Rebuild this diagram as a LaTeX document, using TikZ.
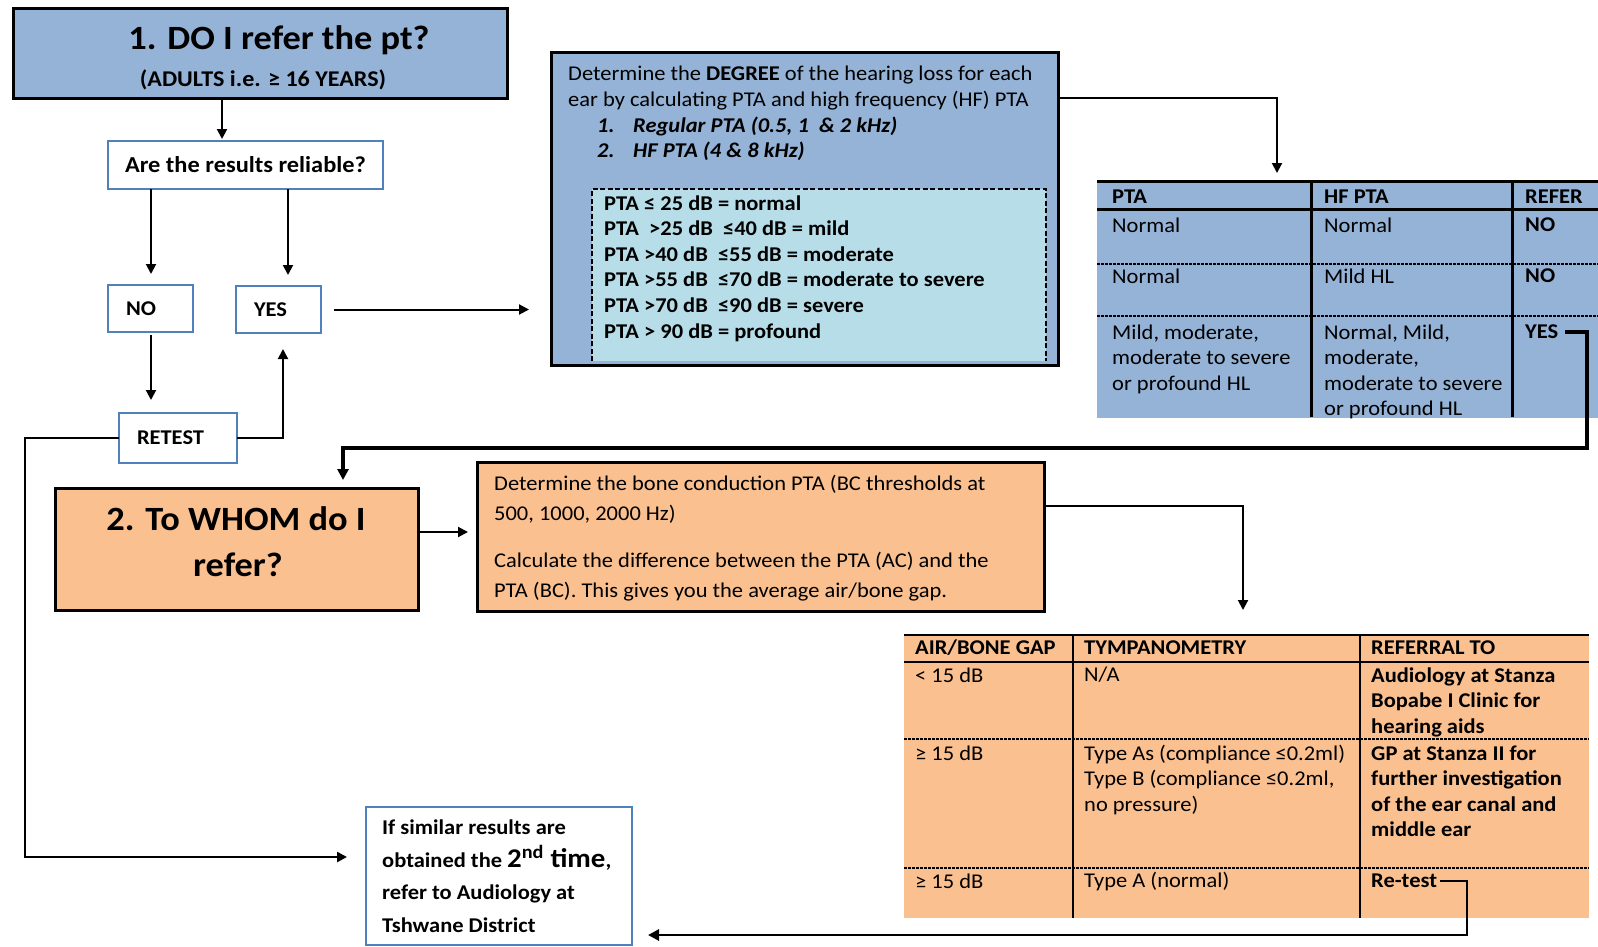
\documentclass[tikz,border=0pt]{standalone}
\usepackage{fontspec}
\setmainfont{Carlito}[FakeStretch=1.07]
\usetikzlibrary{arrows.meta,calc}
\definecolor{bfill}{RGB}{149,179,215}
\definecolor{cfill}{RGB}{183,222,232}
\definecolor{ofill}{RGB}{250,192,144}
\definecolor{bline}{RGB}{79,129,189}
\newcommand\body{\fontsize{21}{25.5}\selectfont}
\tikzset{
  box/.style={draw, rectangle, anchor=north west, inner sep=0pt, outer sep=0pt},
  bigbox/.style={box, line width=3pt, draw=black},
  bluebox/.style={box, line width=2.5pt, draw=bline, fill=white},
  ml/.style={anchor=north west, inner sep=0pt, align=left},
  cell/.style={anchor=west, inner sep=0pt},
  arr/.style={line width=2pt, -{Triangle[length=10pt,width=10pt]}},
  arrT/.style={line width=3.2pt, -{Triangle[length=11pt,width=11pt]}},
  thk/.style={line width=3pt},
  thn/.style={line width=1.5pt},
  rowsep/.style={line width=1.1pt, dash pattern=on 2.5pt off 1.5pt},
  dashb/.style={line width=2.5pt, dash pattern=on 5pt off 2.5pt},
}
\begin{document}
\begin{tikzpicture}[x=1pt,y=-1pt,font=\body]
\useasboundingbox (0,0) rectangle (1598,946);

% ---------- section 1 ----------
\node[bigbox, fill=bfill, minimum width=494, minimum height=90] (title) at (13,8) {};
\node[font=\bfseries\fontsize{34}{40}\selectfont] (ttl) at (279,40) {1. DO I refer the pt?};
\node[font=\bfseries\fontsize{22.5}{26}\selectfont] (sub) at (263,80) {(ADULTS i.e. ≥ 16 YEARS)};

\node[bluebox, minimum width=275, minimum height=48, font=\bfseries\fontsize{22.8}{26}\selectfont] (rel) at (108,141) {Are the results reliable?};
\node[bluebox, text width=49, inner xsep=18pt, minimum height=47, align=left, font=\bfseries\body] (no) at (108,285) {NO};
\node[bluebox, text width=49, inner xsep=18pt, minimum height=47, align=left, font=\bfseries\body] (yes) at (236,286) {YES};
\node[bluebox, text width=82, inner xsep=18pt, minimum height=50, align=left, font=\bfseries\body] (retest) at (119,413) {RETEST};

% blue box
\node[bigbox, fill=bfill, minimum width=507, minimum height=313] (blue) at (551,52) {};
\node[box, draw=none, fill=cfill, minimum width=454, minimum height=172] (dash) at (592,189) {};
\draw[dashb] (dash.south west) -- (dash.north west) -- (dash.north east) -- (dash.south east);
\node[ml, font=\fontsize{21}{26}\selectfont] (bt) at (568,62) {\strut Determine the \textbf{DEGREE} of the hearing loss for each\\ear by calculating PTA and high frequency (HF) PTA};
\node[ml, font=\bfseries\itshape\fontsize{21}{25.5}\selectfont] (bn) at (597,114) {\strut 1.\\2.};
\node[ml, font=\bfseries\itshape\fontsize{21}{25.5}\selectfont] (bi) at (633,114) {\strut Regular PTA (0.5, 1\ \ \& 2 kHz)\\HF PTA (4 \& 8 kHz)};
\node[ml, font=\bfseries\fontsize{21}{25.6}\selectfont] (dl) at (604,192) {\strut PTA ≤ 25 dB = normal\\PTA\ \ >25 dB\ \ ≤40 dB = mild\\PTA >40 dB\ \ ≤55 dB = moderate\\PTA >55 dB\ \ ≤70 dB = moderate to severe\\PTA >70 dB\ \ ≤90 dB = severe\\PTA > 90 dB = profound};

% top-right table
\node[box, draw=none, fill=bfill, minimum width=501, minimum height=237] (tbl1) at (1097,181) {};
\draw[thk] (tbl1.north west) -- (tbl1.north east);
\draw[thk] (1097,209) -- (1598,209);
\draw[rowsep] (1097,264) -- (1598,264);
\draw[rowsep] (1097,316) -- (1598,316);
\draw[thk] (1311,181) -- (1311,417);
\draw[thk] (1512,181) -- (1512,417);
\node[cell, font=\bfseries\body] (h1) at (1112,197) {PTA};
\node[cell, font=\bfseries\body] (h2) at (1324,197) {HF PTA};
\node[cell, font=\bfseries\body] (h3) at (1525,197) {REFER};
\node[cell] (r1a) at (1112,225) {Normal};
\node[cell] (r1b) at (1324,225) {Normal};
\node[cell, font=\bfseries\body] (r1c) at (1525,225) {NO};
\node[cell] (r2a) at (1112,276) {Normal};
\node[cell] (r2b) at (1324,276) {Mild HL};
\node[cell, font=\bfseries\body] (r2c) at (1525,276) {NO};
\node[ml] (r3a) at (1112,321) {\strut Mild, moderate,\\moderate to severe\\or profound HL};
\node[ml] (r3b) at (1324,321) {\strut Normal, Mild,\\moderate,\\moderate to severe\\or profound HL};
\node[cell, font=\bfseries\body] (yes2) at (1525,332) {YES};

% ---------- section 2 ----------
\node[bigbox, fill=ofill, minimum width=363, minimum height=122] (whom) at (55,488) {};
\node[font=\bfseries\fontsize{34}{47}\selectfont] (w1) at (236,519) {2. To WHOM do I};
\node[font=\bfseries\fontsize{34}{47}\selectfont] (w2) at (238,565) {refer?};

\node[bigbox, fill=ofill, minimum width=567, minimum height=149] (orange) at (477,462) {};
\node[ml, font=\fontsize{21}{29.6}\selectfont] (ot1) at (494,470) {\strut Determine the bone conduction PTA (BC thresholds at\\500, 1000, 2000 Hz)};
\node[ml, font=\fontsize{21}{29.6}\selectfont] (ot2) at (494,547) {\strut Calculate the difference between the PTA (AC) and the\\PTA (BC). This gives you the average air/bone gap.};

% bottom table
\node[box, draw=none, fill=ofill, minimum width=685, minimum height=283] (tbl2) at (904,635) {};
\draw[thn] (tbl2.north west) -- (tbl2.north east);
\draw[line width=2pt] (904,662) -- (1589,662);
\draw[rowsep] (904,739) -- (1589,739);
\draw[rowsep] (904,868) -- (1589,868);
\draw[thn] (1073,635) -- (1073,918);
\draw[thn] (1360,635) -- (1360,918);
\node[cell, font=\bfseries\body] (g1) at (915,648) {AIR/BONE GAP};
\node[cell, font=\bfseries\body] (g2) at (1084,648) {TYMPANOMETRY};
\node[cell, font=\bfseries\body] (g3) at (1371,648) {REFERRAL TO};
\node[cell] (s1a) at (915,675) {< 15 dB};
\node[cell] (s1b) at (1084,675) {N/A};
\node[ml, font=\bfseries\body] (s1c) at (1371,664) {\strut Audiology at Stanza\\Bopabe I Clinic for\\hearing aids};
\node[cell] (s2a) at (915,753) {≥ 15 dB};
\node[ml] (s2b) at (1084,742) {\strut Type As (compliance ≤0.2ml)\\Type B (compliance ≤0.2ml,\\no pressure)};
\node[ml, font=\bfseries\body] (s2c) at (1371,742) {\strut GP at Stanza II for\\further investigation\\of the ear canal and\\middle ear};
\node[cell] (s3a) at (915,881) {≥ 15 dB};
\node[cell] (s3b) at (1084,881) {Type A (normal)};
\node[cell, font=\bfseries\body] (retest2) at (1371,881) {Re-test};

% note box
\node[bluebox, minimum width=266, minimum height=138] (note) at (366,807) {};
\node[ml, font=\bfseries\fontsize{21}{32.5}\selectfont] (nt) at (382,812) {\strut If similar results are\\obtained the {\fontsize{27}{32}\selectfont 2\textsuperscript{nd} time},\\refer to Audiology at\\Tshwane District};

% ---------- connectors ----------
\coordinate (x1) at (222,0);
\coordinate (x2) at (151,0);
\coordinate (x3) at (288,0);
\coordinate (x4) at (283,0);
\coordinate (lp) at (25,857);
\coordinate (b1) at (1277,98);
\coordinate (c9) at (1587,448);
\coordinate (x9) at (343,0);
\coordinate (y10) at (0,532);
\coordinate (c11) at (1243,506);
\coordinate (c12) at (1467,935);

\draw[arr, shorten >=2pt] (title.south -| x1) -- (rel.north -| x1);
\draw[arr, shorten >=11pt] (rel.south -| x2) -- (no.north -| x2);
\draw[arr, shorten >=11pt] (rel.south -| x3) -- (yes.north -| x3);
\draw[arr, shorten <=3pt, shorten >=13pt] (no.south -| x2) -- (retest.north -| x2);
\draw[arr, shorten >=16pt] (retest.east) -| (yes.south -| x4);
\draw[arr, shorten <=13pt, shorten >=22pt] (yes.east) -- (blue.west |- yes.east);
\draw[arr, line width=2.6pt, shorten >=19pt] (retest.west) -| (lp) -- (note.west |- lp);
\draw[arr, shorten >=8pt] (blue.east |- b1) -| (tbl1.north -| b1);
\draw[arrT, shorten <=7pt, shorten >=8pt] (yes2.east) -| (c9) -- (c9 -| x9) -- (whom.north -| x9);
\draw[arr, shorten >=9pt] (whom.east |- y10) -- (orange.west |- y10);
\draw[arr, shorten >=25pt] (orange.east |- c11) -| (tbl2.north -| c11);
\draw[arrT, line width=2.8pt, shorten <=3pt, shorten >=16pt] (retest2.east) -| (c12) -- (note.east |- c12);
\end{tikzpicture}
\end{document}
